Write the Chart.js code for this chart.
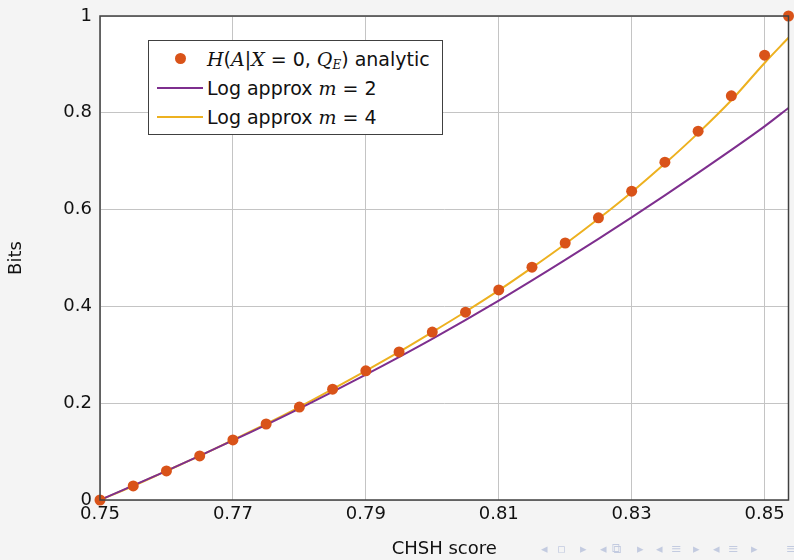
<!DOCTYPE html>
<html>
<head>
<meta charset="utf-8">
<script src="https://cdn.jsdelivr.net/npm/chart.js@4"></script>
<style>
  html, body { margin: 0; padding: 0; background: #f4f4f4; }
  #wrap { position: relative; width: 794px; height: 560px; overflow: hidden; }
  #legend {
    position: absolute; background: #fff; border: 1px solid #404040;
    font-family: "DejaVu Sans", sans-serif; font-size: 19px; color: #111;
    padding: 3px 12px 3px 8px; line-height: 28px; white-space: nowrap;
  }
  #legend .row { display: flex; align-items: center; height: 29px; }
  #legend .sym { width: 46px; height: 29px; position: relative; margin-right: 4px; }
  #legend .dot { position: absolute; left: 18px; top: 9px; width: 11px; height: 11px; border-radius: 50%; background: #d95319; }
  #legend .ln { position: absolute; left: 0; right: 0; top: 14px; height: 2px; }
  #legend i { font-family: "DejaVu Serif", serif; }
  #legend sub { font-size: 12px; line-height: 0; vertical-align: -3px; }
  #nav span {
    position: absolute; top: 541px; color: #c3cbe0;
    font-family: "DejaVu Sans", sans-serif; font-size: 13px; white-space: nowrap;
  }
</style>
</head>
<body>
<div id="wrap">
  <canvas id="chart" width="794" height="560"></canvas>
  <div id="legend">
    <div class="row"><div class="sym"><div class="dot"></div></div><span><i>H</i>(<i>A</i>|<i>X</i> = 0, <i>Q<sub>E</sub></i>) analytic</span></div>
    <div class="row"><div class="sym"><div class="ln" style="background:#7e2f8e"></div></div><span>Log approx <i>m</i> = 2</span></div>
    <div class="row"><div class="sym"><div class="ln" style="background:#edb120"></div></div><span>Log approx <i>m</i> = 4</span></div>
  </div>
  <div id="nav"></div>
</div>
<script>
// CHSH scores of the analytic points
const scores = [0.75, 0.755, 0.76, 0.765, 0.77, 0.775, 0.78, 0.785, 0.79, 0.795, 0.80,
  0.805, 0.81, 0.815, 0.82, 0.825, 0.83, 0.835, 0.84, 0.845, 0.85, 0.8536]
const analytic = [0, 0.029, 0.060, 0.091, 0.124, 0.157, 0.192, 0.229, 0.267, 0.306, 0.347,
  0.388, 0.434, 0.481, 0.531, 0.583, 0.638, 0.698, 0.762, 0.835, 0.919, 1.0]
const approxM4 = [0, 0.029, 0.060, 0.091, 0.124, 0.157, 0.192, 0.229, 0.267, 0.306, 0.347,
  0.389, 0.433, 0.480, 0.529, 0.581, 0.636, 0.695, 0.758, 0.826, 0.903, 0.955]

// m = 2 curve read every 0.01
const scoresM2 = [0.75, 0.76, 0.77, 0.78, 0.79, 0.80, 0.81, 0.82, 0.83, 0.84, 0.85, 0.8536]
const approxM2 = [0, 0.060, 0.123, 0.189, 0.259, 0.333, 0.412, 0.496, 0.584, 0.676, 0.772, 0.81]

const xTicks = [0.75, 0.77, 0.79, 0.81, 0.83, 0.85]
const xTickLabels = ["0.75", "0.77", "0.79", "0.81", "0.83", "0.85"]
const yTicks = [0, 0.2, 0.4, 0.6, 0.8, 1]
const yTickLabels = ["0", "0.2", "0.4", "0.6", "0.8", "1"]

// beamer navigation symbols in the bottom corner
const navSymbols = ["◂", "▫", "▸", "◂", "⧉", "▸", "◂", "≡", "▸", "◂", "≡", "▸", "≡"]
const navLeft = [541, 557, 580, 600, 612, 637, 656, 671, 693, 713, 728, 751, 786]

const nav = document.getElementById("nav")
navSymbols.forEach((s, i) => {
  const el = document.createElement("span")
  el.textContent = s
  el.style.left = navLeft[i] + "px"
  nav.appendChild(el)
})

const pairs = (xs, ys) => xs.map((x, i) => ({ x: x, y: ys[i] }))
const font = { family: "DejaVu Sans", size: 18 }

const framePlugin = {
  id: "frame",
  beforeDraw(chart) {
    const a = chart.chartArea, ctx = chart.ctx
    ctx.save()
    ctx.fillStyle = "#fff"
    ctx.fillRect(a.left, a.top, a.right - a.left, a.bottom - a.top)
    ctx.restore()
  },
  afterDatasetsDraw(chart) {
    const a = chart.chartArea, ctx = chart.ctx
    ctx.save()
    ctx.strokeStyle = "#404040"
    ctx.lineWidth = 1.5
    ctx.strokeRect(a.left, a.top, a.right - a.left, a.bottom - a.top)
    ctx.restore()
  },
  afterRender(chart) {
    const a = chart.chartArea
    const lg = document.getElementById("legend")
    lg.style.left = (a.left + 48) + "px"
    lg.style.top = (a.top + 24) + "px"
  }
}

new Chart(document.getElementById("chart"), {
  type: "line",
  data: {
    datasets: [{
      label: "H(A|X=0,Q_E) analytic",
      data: pairs(scores, analytic),
      showLine: false,
      pointRadius: 5.5,
      pointBackgroundColor: "#d95319",
      pointBorderColor: "#d95319",
      pointBorderWidth: 0,
      clip: false
    }, {
      label: "Log approx m = 2",
      data: pairs(scoresM2, approxM2),
      borderColor: "#7e2f8e",
      borderWidth: 2,
      pointRadius: 0,
      cubicInterpolationMode: "monotone"
    }, {
      label: "Log approx m = 4",
      data: pairs(scores, approxM4),
      borderColor: "#edb120",
      borderWidth: 2,
      pointRadius: 0,
      cubicInterpolationMode: "monotone"
    }]
  },
  options: {
    responsive: false,
    animation: false,
    layout: { padding: { top: 16, right: 5, left: 0, bottom: 0 } },
    plugins: { legend: { display: false }, tooltip: { enabled: false } },
    scales: {
      x: {
        type: "linear",
        min: 0.75,
        max: 0.8536,
        afterBuildTicks: axis => { axis.ticks = xTicks.map(v => ({ value: v })) },
        afterFit: axis => { axis.height = 60; axis.paddingLeft = 0; axis.paddingRight = 0 },
        ticks: {
          color: "#111", font: font, padding: 4, maxRotation: 0, autoSkip: false,
          callback: (v) => xTickLabels[xTicks.indexOf(v)]
        },
        grid: { color: "#c4c4c4", drawTicks: false },
        border: { display: false },
        title: { display: true, text: "CHSH score", color: "#111", font: font, padding: { top: 0, bottom: 0 } }
      },
      y: {
        min: 0,
        max: 1,
        afterBuildTicks: axis => { axis.ticks = yTicks.map(v => ({ value: v })) },
        afterFit: axis => { axis.width = 100; axis.paddingTop = 0; axis.paddingBottom = 0 },
        ticks: {
          color: "#111", font: font, padding: 8,
          callback: (v) => yTickLabels[yTicks.indexOf(v)]
        },
        grid: { color: "#c4c4c4", drawTicks: false },
        border: { display: false },
        title: { display: true, text: "Bits", color: "#111", font: font, padding: { top: 6, bottom: 0 } }
      }
    }
  },
  plugins: [framePlugin]
})
</script>
</body>
</html>
